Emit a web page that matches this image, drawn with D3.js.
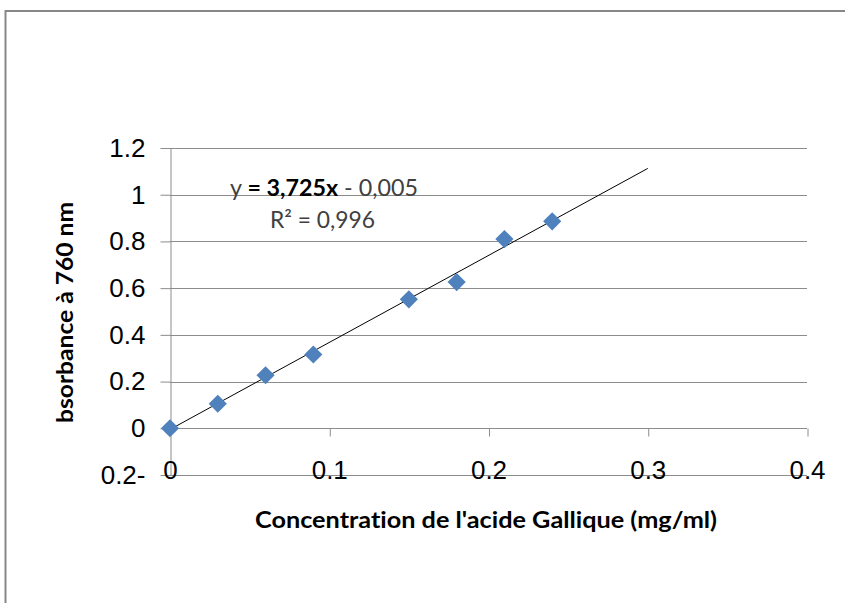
<!DOCTYPE html>
<html>
<head>
<meta charset="utf-8">
<script src="https://cdn.jsdelivr.net/npm/d3@7"></script>
<style>
  html, body { margin: 0; padding: 0; background: #fff; }
  svg { display: block; }
  text { font-variant-ligatures: none; font-feature-settings: "liga" 0, "dlig" 0; }
</style>
</head>
<body>
<svg id="chart" width="845" height="603"></svg>
<script>
// ---- data ----
const concentration = [0, 0.03, 0.06, 0.09, 0.15, 0.18, 0.21, 0.24];
const absorbance    = [0, 0.105, 0.227, 0.316, 0.552, 0.626, 0.81, 0.886];
const xTicks = [0, 0.1, 0.2, 0.3, 0.4];
const yTicks = [-0.2, 0, 0.2, 0.4, 0.6, 0.8, 1, 1.2];
const trendSlope = 3.725;
const trendIntercept = -0.005;
const trendRange = [0, 0.3];
const equationBold = "= 3,725x";
const equationPre = "y ";
const equationPost = " - 0,005";
const r2Text = "R² = 0,996";
const xTitle = "Concentration de l'acide Gallique (mg/ml)";
const yTitle = "bsorbance à 760 nm";

const svg = d3.select("#chart");

// outer frame
svg.append("rect")
  .attr("x", 5.5).attr("y", 11)
  .attr("width", 1000).attr("height", 800)
  .attr("fill", "none").attr("stroke", "#878787").attr("stroke-width", 2);

const x = d3.scaleLinear().domain([0, 0.4]).range([170, 807]);
const y = d3.scaleLinear().domain([-0.2, 1.2]).range([475, 148]);

const gridColor = "#8c8c8c";
const tickFont = "'Liberation Sans', Arial, sans-serif";
const tickSize = 26;

// gridlines
svg.append("g").selectAll("line").data(yTicks).join("line")
  .attr("x1", x(0)).attr("x2", x(0.4))
  .attr("y1", d => Math.round(y(d)) + 0.5).attr("y2", d => Math.round(y(d)) + 0.5)
  .attr("stroke", gridColor).attr("stroke-width", 1);

// y axis
const yAxis = d3.axisLeft(y).tickValues(yTicks).tickSize(10).tickSizeOuter(0).tickPadding(15)
  .tickFormat(d => d < 0 ? d3.format("")(Math.abs(d)) + "-" : d3.format("")(d));
const gy = svg.append("g").attr("transform", `translate(${x(0) + 0.5},0)`).call(yAxis);
gy.selectAll("line, path").attr("stroke", gridColor);
gy.selectAll("text").attr("font-family", tickFont).attr("font-size", tickSize).attr("fill", "#000");

// x axis at y = 0 (tick marks only)
const xAxisTicks = d3.axisBottom(x).tickValues(xTicks.filter(d => d > 0)).tickSize(8).tickSizeOuter(0).tickFormat("");
const gx = svg.append("g").attr("transform", `translate(0.5,${Math.round(y(0)) + 0.5})`).call(xAxisTicks);
gx.select("path").remove();
gx.selectAll("line").attr("stroke", gridColor);

// x labels at bottom (low position)
const xAxisLabels = d3.axisBottom(x).tickValues(xTicks).tickSize(0).tickPadding(-14).tickFormat(d3.format(""));
const gxl = svg.append("g").attr("transform", `translate(0,${Math.round(y(-0.2))})`).call(xAxisLabels);
gxl.select("path").remove();
gxl.selectAll("text").attr("font-family", tickFont).attr("font-size", tickSize).attr("fill", "#000");

// trendline
const line = d3.line().x(d => x(d)).y(d => y(trendSlope * d + trendIntercept));
svg.append("path").datum(trendRange)
  .attr("d", line).attr("fill", "none").attr("stroke", "#000").attr("stroke-width", 1);

// markers
const pts = concentration.map((c, i) => ({ c, a: absorbance[i] }));
svg.append("g").selectAll("path").data(pts).join("path")
  .attr("d", d3.symbol(d3.symbolSquare, 165))
  .attr("transform", d => `translate(${x(d.c)},${y(d.a)}) rotate(45)`)
  .attr("fill", "#4F81BD");

// trendline equation
const calFont = "Lato, 'Open Sans', sans-serif";
const eq = svg.append("text")
  .attr("x", 230).attr("y", 196)
  .attr("font-family", calFont).attr("font-size", 23).attr("fill", "#404040")
  .attr("textLength", 188).attr("lengthAdjust", "spacingAndGlyphs");
eq.append("tspan").text(equationPre);
eq.append("tspan").attr("font-weight", "bold").attr("fill", "#000").text(equationBold);
eq.append("tspan").text(equationPost);

svg.append("text")
  .attr("x", 270).attr("y", 228)
  .attr("font-family", calFont).attr("font-size", 23).attr("fill", "#404040")
  .attr("textLength", 105).attr("lengthAdjust", "spacingAndGlyphs")
  .text(r2Text);

// axis titles
svg.append("text")
  .attr("x", 255).attr("y", 528)
  .attr("font-family", calFont).attr("font-size", 23).attr("font-weight", "bold").attr("fill", "#000")
  .attr("textLength", 462).attr("lengthAdjust", "spacingAndGlyphs")
  .text(xTitle);

svg.append("text")
  .attr("transform", "translate(73,423) rotate(-90)")
  .attr("font-family", calFont).attr("font-size", 22).attr("font-weight", "bold").attr("fill", "#000")
  .attr("textLength", 221).attr("lengthAdjust", "spacingAndGlyphs")
  .text(yTitle);
</script>
</body>
</html>
